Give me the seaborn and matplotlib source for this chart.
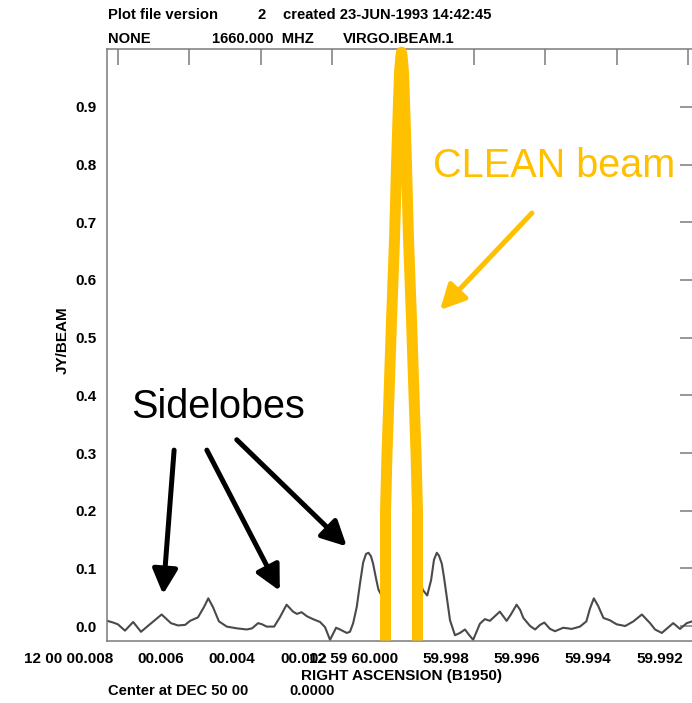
import matplotlib
matplotlib.use("Agg")
import matplotlib.pyplot as plt
import matplotlib.transforms as mtransforms
import seaborn as sns

# Right-ascension offset from 12 00 00.000 in milliseconds of time (positive = east/left)
ra_ms = [8.31, 8.14, 8.01, 7.81, 7.58, 7.36, 7.11, 6.78, 6.52, 6.32, 6.12, 5.98,
         5.76, 5.59, 5.47, 5.34, 5.17, 4.95, 4.67, 4.39, 4.24, 4.07, 3.96, 3.83,
         3.62, 3.46, 3.27, 3.09, 2.98, 2.85, 2.70, 2.53, 2.33, 2.19, 2.05, 1.88,
         1.77, 1.58, 1.49, 1.40, 1.30, 1.21, 1.12, 1.04, 0.97, 0.90, 0.84, 0.76,
         0.69, 0.62, 0.54, 0.491, 0.449, 0.393, 0.323, 0.239, 0.182, 0.132, 0.098,
         0.042, -0.014, -0.048, -0.098, -0.155, -0.239, -0.309, -0.365, -0.407,
         -0.46, -0.55, -0.68, -0.79, -0.87, -0.95, -1.01,
         -1.09, -1.15, -1.23, -1.32, -1.46, -1.60, -1.74, -1.85, -1.97, -2.16,
         -2.30, -2.44, -2.72, -2.91, -3.03, -3.19, -3.29, -3.38, -3.57, -3.71,
         -3.85, -3.97, -4.13, -4.27, -4.50, -4.74, -4.97, -5.15, -5.25, -5.36,
         -5.48, -5.63, -5.81, -6.00, -6.24, -6.47, -6.71, -6.94, -7.08, -7.27,
         -7.42, -7.59, -7.78, -7.97, -8.12, -8.23]
# Dirty beam response (Jy/beam)
beam_jy = [0.009, 0.006, 0.003, -0.008, 0.007, -0.010, 0.003, 0.020, 0.005, 0.001,
           0.002, 0.009, 0.015, 0.033, 0.048, 0.033, 0.008, -0.001, -0.004, -0.006,
           -0.004, 0.005, 0.003, -0.001, -0.001, 0.015, 0.037, 0.025, 0.021, 0.024,
           0.017, 0.012, 0.007, -0.002, -0.024, -0.003, -0.006, -0.012, -0.010,
           0.005, 0.033, 0.073, 0.110, 0.125, 0.127, 0.121, 0.108, 0.083, 0.063,
           0.055, 0.09, 0.20, 0.30, 0.40, 0.53, 0.67, 0.80, 0.90, 0.96, 1.0, 0.96,
           0.90, 0.80, 0.67, 0.53, 0.40, 0.30, 0.20,
           0.09, 0.063, 0.053, 0.08, 0.115, 0.127, 0.122, 0.108, 0.085, 0.05,
           0.01, -0.016, -0.012, -0.006, -0.015, -0.024, 0.004, 0.012, 0.009, 0.025,
           0.009, 0.02, 0.037, 0.028, 0.014, 0.000, -0.006, 0.002, 0.006, -0.005,
           -0.009, -0.003, -0.005, -0.001, 0.008, 0.03, 0.048, 0.035, 0.014, 0.010,
           0.003, 0.000, 0.008, 0.020, 0.005, -0.006, -0.012, -0.004, 0.005, -0.005,
           0.005, 0.008, 0.006]

# CLEAN beam outline drawn over the main lobe
clean_ms = [0.491, 0.491, 0.491, 0.449, 0.393, 0.323, 0.239, 0.182, 0.132, 0.098,
            0.06, 0.042, 0.024, -0.014, -0.048, -0.098, -0.155, -0.239, -0.309,
            -0.365, -0.407, -0.407, -0.407]
clean_jy = [-0.0251, 0.05, 0.20, 0.30, 0.40, 0.53, 0.67, 0.80, 0.90, 0.96,
            0.988, 0.995, 0.988, 0.96, 0.90, 0.80, 0.67, 0.53, 0.40,
            0.30, 0.20, 0.05, -0.0251]

tick_ms = [8, 6, 4, 2, 0, -2, -4, -6, -8]
tick_labels = ["12 00 00.008", "00.006", "00.004", "00.002", "12 59 60.000",
               "59.998", "59.996", "59.994", "59.992"]
ytick_vals = [0.0, 0.1, 0.2, 0.3, 0.4, 0.5, 0.6, 0.7, 0.8, 0.9]

sns.set_theme(style="white")
plt.rcParams["font.family"] = ["Liberation Sans", "DejaVu Sans"]

W, H = 692, 703
fig = plt.figure(figsize=(W / 100, H / 100), dpi=100)
fig.patch.set_facecolor("white")
ax = fig.add_axes([107 / W, 1 - 640.5 / H, (696 - 107) / W, (640.5 - 49) / H])
ax.set_facecolor("white")

grey = "#7a7a7a"
gold = "#FFC000"

sns.lineplot(x=ra_ms, y=beam_jy, ax=ax, sort=False, estimator=None,
             color="#4a4a4a", linewidth=1.5, zorder=2)
sns.lineplot(x=clean_ms, y=clean_jy, ax=ax, sort=False, estimator=None,
             color=gold, linewidth=7.9, zorder=3)
line = ax.lines[-1]
line.set_clip_on(False)
line.set_solid_capstyle("butt")
line.set_solid_joinstyle("round")

ax.set_xlim(8.315, -8.23)
ax.set_ylim(-0.0251, 1.0005)

for s in ax.spines.values():
    s.set_color(grey)
    s.set_linewidth(1.1)
    s.set_visible(True)

ax.set_xticks(tick_ms)
ax.set_xticklabels(tick_labels, ha="right")
ax.set_yticks(ytick_vals)
ax.set_yticklabels([f"{v:.1f}" for v in ytick_vals])
ax.tick_params(which="both", direction="in", top=True, right=True,
               length=11.5, width=1.1, color=grey, labelsize=11,
               labelcolor="black")
ax.tick_params(axis="x", pad=8.6)
ax.tick_params(axis="y", pad=7.2)
shift = mtransforms.ScaledTranslation(-5 / 100, 0, fig.dpi_scale_trans)
for lab in ax.get_xticklabels():
    lab.set_fontweight("bold")
    lab.set_transform(lab.get_transform() + shift)
for lab in ax.get_yticklabels():
    lab.set_fontweight("bold")

ax.set_xlabel("RIGHT ASCENSION (B1950)", fontsize=11, fontweight="bold",
              color="black", va="top")
ax.xaxis.set_label_coords(0.5, -0.048)
ax.set_ylabel("JY/BEAM", fontsize=11, fontweight="bold", color="black")
ax.yaxis.set_label_coords(-0.063, 0.508)


def fpx(x, y):
    return x / W, 1 - y / H


hdr = dict(fontsize=10.6, fontweight="bold", color="black", va="baseline", ha="left")
fig.text(*fpx(108, 19), "Plot file version", **hdr)
fig.text(*fpx(257, 19), "2", **hdr)
fig.text(*fpx(283, 19), "created 23-JUN-1993 14:42:45", **hdr)
fig.text(*fpx(108, 43.3), "NONE", **hdr)
fig.text(*fpx(212, 43.3), "1660.000  MHZ", **hdr)
fig.text(*fpx(343, 43.3), "VIRGO.IBEAM.1", **hdr)
fig.text(*fpx(108, 695), "Center at DEC 50 00", **hdr)
fig.text(*fpx(289, 695), "0.0000", **hdr)

# Annotations
ax.text(-0.83, 0.779, "CLEAN beam", fontsize=28.5, color=gold, ha="left",
        va="baseline", zorder=5)
ax.text(7.63, 0.361, "Sidelobes", fontsize=28.5, color="black", ha="left",
        va="baseline", zorder=5)

arrow_black = dict(arrowstyle="-|>,head_length=0.75,head_width=0.38",
                   color="black", lw=3.6, mutation_scale=20,
                   shrinkA=0, shrinkB=0)
for tail, tip in [((6.43, 0.305), (6.74, 0.055)),
                  ((5.51, 0.305), (3.46, 0.061)),
                  ((4.67, 0.323), (1.58, 0.138))]:
    ax.annotate("", xy=tip, xytext=tail, arrowprops=arrow_black, zorder=5)

arrow_gold = dict(arrowstyle="-|>,head_length=0.75,head_width=0.38",
                  color=gold, lw=3.6, mutation_scale=20,
                  shrinkA=0, shrinkB=0)
ax.annotate("", xy=(-1.04, 0.548), xytext=(-3.62, 0.716),
            arrowprops=arrow_gold, zorder=5)

fig.savefig("out.png", dpi=100, facecolor="white")
